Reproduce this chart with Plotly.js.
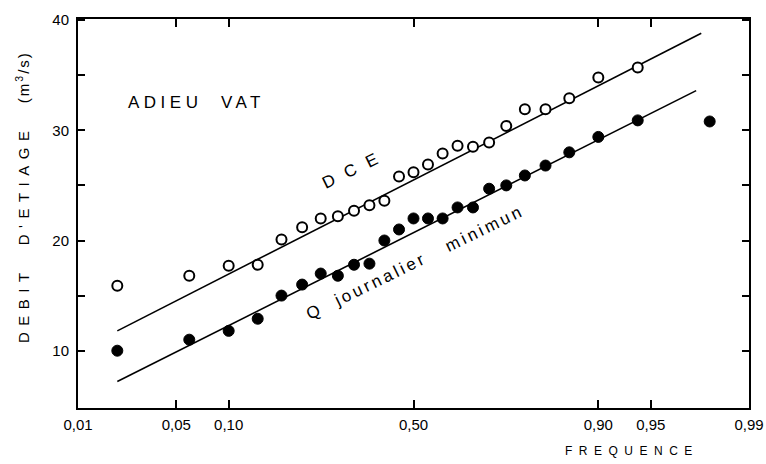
<!DOCTYPE html>
<html>
<head>
<meta charset="utf-8">
<script src="https://cdn.plot.ly/plotly-3.0.1.min.js"></script>
<style>
  html, body { margin: 0; padding: 0; background: #fff; }
  #chart { width: 766px; height: 464px; }
</style>
</head>
<body>
<div id="chart"></div>
<script>
// ---- Data (frequency = plotting position) ----
var frequency = [0.02, 0.06, 0.10, 0.14, 0.18, 0.22, 0.26, 0.30, 0.34, 0.38,
                 0.42, 0.46, 0.50, 0.54, 0.58, 0.62, 0.66, 0.70, 0.74, 0.78,
                 0.82, 0.86, 0.90, 0.94, 0.98];
// DCE (open circles), m3/s
var dceValues = [15.9, 16.8, 17.7, 17.8, 20.1, 21.2, 22.0, 22.2, 22.7, 23.2,
                 23.6, 25.8, 26.2, 26.9, 27.9, 28.6, 28.5, 28.9, 30.4, 31.9,
                 31.9, 32.9, 34.8, 35.7];
// Q journalier minimum (filled circles), m3/s
var qminValues = [10.0, 11.0, 11.8, 12.9, 15.0, 16.0, 17.0, 16.8, 17.8, 17.9,
                  20.0, 21.0, 22.0, 22.0, 22.0, 23.0, 23.0, 24.7, 25.0, 25.9,
                  26.8, 28.0, 29.4, 30.9, 30.8];
// Fitted lines (end points)
var dceFitFreq = [0.02, 0.977];
var dceFitValues = [11.8, 38.8];
var qminFitFreq = [0.02, 0.975];
var qminFitValues = [7.2, 33.6];
// Axis ticks
var xTickFreq = [0.01, 0.05, 0.10, 0.50, 0.90, 0.95, 0.99];
var xTickText = ['0,01', '0,05', '0,10', '0,50', '0,90', '0,95', '0,99'];
var yTickVals = [10, 20, 30, 40];
var yTickText = ['10', '20', '30', '40'];
var yMinorTicks = [15, 25, 35];

// Normal probability axis transform (inverse normal CDF, Acklam)
function probit(p) {
  var a = [-3.969683028665376e+01, 2.209460984245205e+02, -2.759285104469687e+02,
           1.383577518672690e+02, -3.066479806614716e+01, 2.506628277459239e+00];
  var b = [-5.447609879822406e+01, 1.615858368580409e+02, -1.556989798598866e+02,
           6.680131188771972e+01, -1.328068155288572e+01];
  var c = [-7.784894002430293e-03, -3.223964580411365e-01, -2.400758277161838e+00,
           -2.549732539343734e+00, 4.374664141464968e+00, 2.938163982698783e+00];
  var d = [7.784695709041462e-03, 3.224671290700398e-01, 2.445134137142996e+00,
           3.754408661907416e+00];
  var pl = 0.02425, q, r;
  if (p < pl) {
    q = Math.sqrt(-2 * Math.log(p));
    return (((((c[0]*q+c[1])*q+c[2])*q+c[3])*q+c[4])*q+c[5]) /
           ((((d[0]*q+d[1])*q+d[2])*q+d[3])*q+1);
  } else if (p <= 1 - pl) {
    q = p - 0.5; r = q * q;
    return (((((a[0]*r+a[1])*r+a[2])*r+a[3])*r+a[4])*r+a[5])*q /
           (((((b[0]*r+b[1])*r+b[2])*r+b[3])*r+b[4])*r+1);
  } else {
    q = Math.sqrt(-2 * Math.log(1 - p));
    return -(((((c[0]*q+c[1])*q+c[2])*q+c[3])*q+c[4])*q+c[5]) /
            ((((d[0]*q+d[1])*q+d[2])*q+d[3])*q+1);
  }
}
function toZ(arr) { return arr.map(probit); }

var FONT = 'Liberation Sans, Arial, Helvetica, sans-serif';

var traces = [
  { x: toZ(dceFitFreq), y: dceFitValues, mode: 'lines', type: 'scatter',
    line: { color: '#000', width: 1.6 }, hoverinfo: 'skip' },
  { x: toZ(qminFitFreq), y: qminFitValues, mode: 'lines', type: 'scatter',
    line: { color: '#000', width: 1.6 }, hoverinfo: 'skip' },
  { x: toZ(frequency.slice(0, dceValues.length)), y: dceValues, mode: 'markers', type: 'scatter',
    name: 'DCE',
    marker: { symbol: 'circle', size: 10, color: '#fff', line: { color: '#000', width: 2 } } },
  { x: toZ(frequency), y: qminValues, mode: 'markers', type: 'scatter',
    name: 'Q journalier minimun',
    marker: { symbol: 'circle', size: 11, color: '#000', line: { color: '#000', width: 1 } } }
];

var layout = {
  width: 766, height: 464,
  margin: { l: 78, r: 17, t: 19, b: 56 },
  paper_bgcolor: '#fff', plot_bgcolor: '#fff',
  showlegend: false,
  font: { family: FONT, color: '#000', size: 15 },
  xaxis: {
    range: [probit(0.01), probit(0.99)],
    tickvals: toZ(xTickFreq), ticktext: xTickText,
    ticks: 'inside', ticklen: 8, tickwidth: 2, tickcolor: '#000',
    showline: true, linewidth: 2, linecolor: '#000', mirror: 'ticks',
    showgrid: false, zeroline: false,
    tickfont: { family: FONT, size: 15, color: '#000' },
    ticklabelstandoff: 2
  },
  yaxis: {
    range: [4.8, 40.1],
    tickvals: yTickVals, ticktext: yTickText,
    ticks: 'inside', ticklen: 7, tickwidth: 2, tickcolor: '#000',
    minor: { tickvals: yMinorTicks, ticks: 'inside', ticklen: 7, tickwidth: 2,
             tickcolor: '#000', showgrid: false },
    showline: true, linewidth: 2, linecolor: '#000', mirror: 'ticks',
    showgrid: false, zeroline: false,
    tickfont: { family: FONT, size: 15, color: '#000' },
    ticklabelstandoff: 4
  },
  annotations: [
    { xref: 'paper', yref: 'paper', x: 0.1766, y: 0.7866, showarrow: false,
      xanchor: 'center', yanchor: 'middle',
      text: '<span style="letter-spacing:4.5px">ADIEU  VAT</span>',
      font: { family: FONT, size: 17, color: '#000' } },
    { xref: 'paper', yref: 'paper', x: 0.4069, y: 0.6118, showarrow: false,
      xanchor: 'center', yanchor: 'middle', textangle: -26,
      text: '<span style="letter-spacing:3.5px">D C E</span>',
      font: { family: FONT, size: 17, color: '#000' } },
    { xref: 'paper', yref: 'paper', x: 0.5022, y: 0.3753, showarrow: false,
      xanchor: 'center', yanchor: 'middle', textangle: -26,
      text: '<span style="letter-spacing:3px">Q  journalier   minimun</span>',
      font: { family: FONT, size: 17, color: '#000' } },
    { xref: 'paper', yref: 'paper', x: 0.8256, y: -0.1105, showarrow: false,
      xanchor: 'center', yanchor: 'middle',
      text: '<span style="letter-spacing:6.5px">FREQUENCE</span>',
      font: { family: FONT, size: 12, color: '#000' } },
    { xref: 'paper', yref: 'paper', x: -0.0835, y: 0.5424, showarrow: false,
      xanchor: 'center', yanchor: 'middle', textangle: -90,
      text: '<span style="letter-spacing:6.5px">DEBIT  D\'ETIAGE  </span><span style="letter-spacing:2px">(m<sup>3</sup>/s)</span>',
      font: { family: FONT, size: 15, color: '#000' } }
  ]
};

Plotly.newPlot('chart', traces, layout, { displayModeBar: false, staticPlot: true });
</script>
</body>
</html>
